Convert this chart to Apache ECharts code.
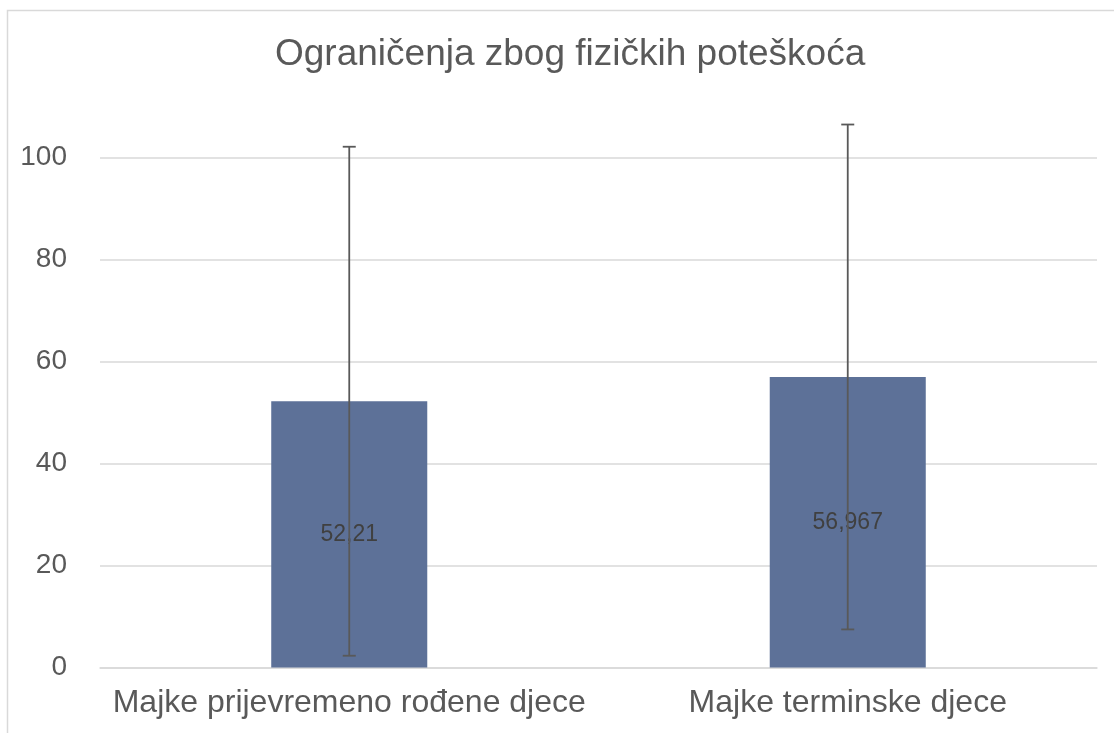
<!DOCTYPE html>
<html>
<head>
<meta charset="utf-8">
<script src="https://cdn.jsdelivr.net/npm/echarts@6/dist/echarts.min.js"></script>
<style>html,body{margin:0;padding:0;background:#fff}#c{width:1114px;height:733px}</style>
</head>
<body>
<div id="c"></div>
<script>
const titleText = 'Ograničenja zbog fizičkih poteškoća';
const categories = ['Majke prijevremeno rođene djece', 'Majke terminske djece'];
const means = [52.21, 56.967];
const sds = [49.9, 49.5];
const labels = ['52,21', '56,967'];
const yTicks = [0, 20, 40, 60, 80, 100];

const chart = echarts.init(document.getElementById('c'));
const font = 'Liberation Sans, Arial, sans-serif';
chart.setOption({
  animation: false,
  backgroundColor: '#fff',
  title: {
    text: titleText, left: 270, top: 31,
    textStyle: { fontFamily: font, fontSize: 37, fontWeight: 'normal', color: '#595959' }
  },
  graphic: [{
    type: 'rect', shape: { x: 7.5, y: 10.5, width: 1200, height: 800 },
    style: { fill: 'none', stroke: '#d9d9d9', lineWidth: 1.5 }, silent: true
  }],
  grid: { left: 100, right: 17, top: 157.5, bottom: 65.5 },
  xAxis: {
    type: 'category', data: categories,
    axisLine: { show: true, lineStyle: { color: '#d9d9d9', width: 1.5 } },
    axisTick: { show: false },
    axisLabel: { fontFamily: font, fontSize: 32, color: '#595959', margin: 20, interval: 0 }
  },
  yAxis: {
    type: 'value', min: yTicks[0], max: yTicks[yTicks.length - 1], interval: 20,
    axisLine: { show: false }, axisTick: { show: false },
    splitLine: { lineStyle: { color: '#d9d9d9', width: 1.5 } },
    axisLabel: { fontFamily: font, fontSize: 28, color: '#595959', margin: 33 }
  },
  series: [{
    type: 'bar', data: means, barWidth: '31.3%',
    itemStyle: { color: '#5d7198' },
    label: {
      show: true, position: 'inside', fontFamily: font, fontSize: 23, color: '#404040',
      formatter: p => labels[p.dataIndex]
    },
    z: 2
  }, {
    type: 'custom', clip: false, z: 5,
    data: means.map((m, i) => [i, m + sds[i], m - sds[i]]),
    renderItem: (params, api) => {
      const i = api.value(0);
      const hi = api.coord([i, api.value(1)]);
      const lo = api.coord([i, api.value(2)]);
      const c = 6.5;
      const st = { stroke: '#595959', lineWidth: 1.8 };
      return { type: 'group', children: [
        { type: 'line', shape: { x1: hi[0], y1: hi[1], x2: lo[0], y2: lo[1] }, style: st },
        { type: 'line', shape: { x1: hi[0] - c, y1: hi[1], x2: hi[0] + c, y2: hi[1] }, style: st },
        { type: 'line', shape: { x1: lo[0] - c, y1: lo[1], x2: lo[0] + c, y2: lo[1] }, style: st }
      ]};
    }
  }]
});
</script>
</body>
</html>
